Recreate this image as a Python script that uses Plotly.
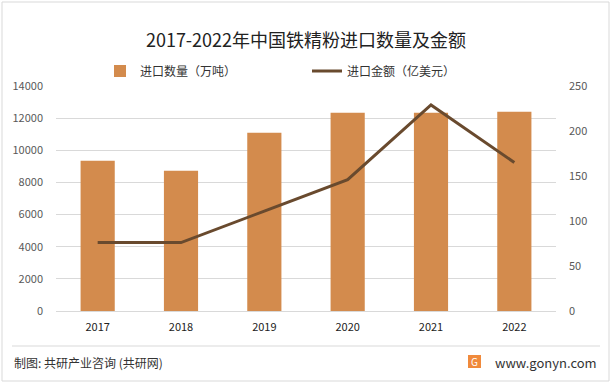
import plotly.graph_objects as go

years = ["2017", "2018", "2019", "2020", "2021", "2022"]
volume = [9350, 8720, 11090, 12340, 12340, 12400]   # 万吨
value = [76, 76, 111, 146, 229, 165]                # 亿美元

W, H = 612, 384
L, R, T, B = 56, 56, 86, 73
PW, PH = W - L - R, H - T - B

def px(x):
    return (x - L) / PW

def py(y):
    return (H - B - y) / PH

FONT = "Noto Sans CJK SC, Noto Sans, sans-serif"

fig = go.Figure()
fig.add_trace(go.Bar(x=years, y=volume, name="进口数量（万吨）",
                     marker=dict(color="#D38B4D", line=dict(width=0)),
                     width=0.41, yaxis="y"))
fig.add_trace(go.Scatter(x=years, y=value, name="进口金额（亿美元）", mode="lines",
                         line=dict(color="#694A2E", width=3), yaxis="y2"))

shapes = [
    dict(type="rect", xref="paper", yref="paper", x0=px(2), x1=px(609), y0=py(2), y1=py(381),
         line=dict(color="#D9D9D9", width=1), fillcolor="rgba(0,0,0,0)", layer="below"),
    dict(type="line", xref="paper", yref="paper", x0=px(12), x1=px(600), y0=py(346), y1=py(346),
         line=dict(color="#D9D9D9", width=1)),
    dict(type="rect", xref="paper", yref="paper", x0=px(468), x1=px(481), y0=py(355), y1=py(368),
         line=dict(width=0), fillcolor="#F08A3C"),
]

annotations = [
    dict(text="制图: 共研产业咨询 (共研网)", xref="paper", yref="paper", x=px(12), y=py(362),
         xanchor="left", yanchor="middle", showarrow=False,
         font=dict(family=FONT, size=12, color="#333333")),
    dict(text="www.gonyn.com", xref="paper", yref="paper", x=px(599), y=py(362),
         xanchor="right", yanchor="middle", showarrow=False,
         font=dict(family=FONT, size=13, color="#333333")),
    dict(text="G", xref="paper", yref="paper", x=px(474.5), y=py(361.5),
         xanchor="center", yanchor="middle", showarrow=False,
         font=dict(family=FONT, size=10, color="white")),
]

fig.update_layout(
    width=W, height=H,
    margin=dict(l=L, r=R, t=T, b=B, autoexpand=False),
    paper_bgcolor="white", plot_bgcolor="white",
    font=dict(family=FONT, color="#595959", size=11),
    title=dict(text="2017-2022年中国铁精粉进口数量及金额", x=0.5, xanchor="center",
               y=1 - 41 / H, yanchor="middle",
               font=dict(family=FONT, size=18, color="#222222")),
    legend=dict(orientation="h", x=px(100), xanchor="left", y=py(71), yanchor="middle",
                entrywidth=162, entrywidthmode="pixels",
                font=dict(family=FONT, size=12, color="#333333"), bgcolor="rgba(0,0,0,0)"),
    xaxis=dict(type="category", showgrid=False, showline=True, linecolor="#D9D9D9",
               ticks="", tickfont=dict(color="#222222", size=11), ticklabelstandoff=6),
    yaxis=dict(range=[0, 14000], dtick=2000, tickformat="d", showgrid=True, gridcolor="#D9D9D9",
               zeroline=False, showline=False, ticklabelstandoff=12),
    yaxis2=dict(range=[0, 250], dtick=50, tickformat="d", overlaying="y", side="right", showgrid=False,
                zeroline=False, showline=False, ticklabelstandoff=12),
    bargap=0.59,
    shapes=shapes,
    annotations=annotations,
)

fig.write_html("out.html", config={"displayModeBar": False},
               post_script="document.body.style.margin='0';document.body.style.padding='0';")
